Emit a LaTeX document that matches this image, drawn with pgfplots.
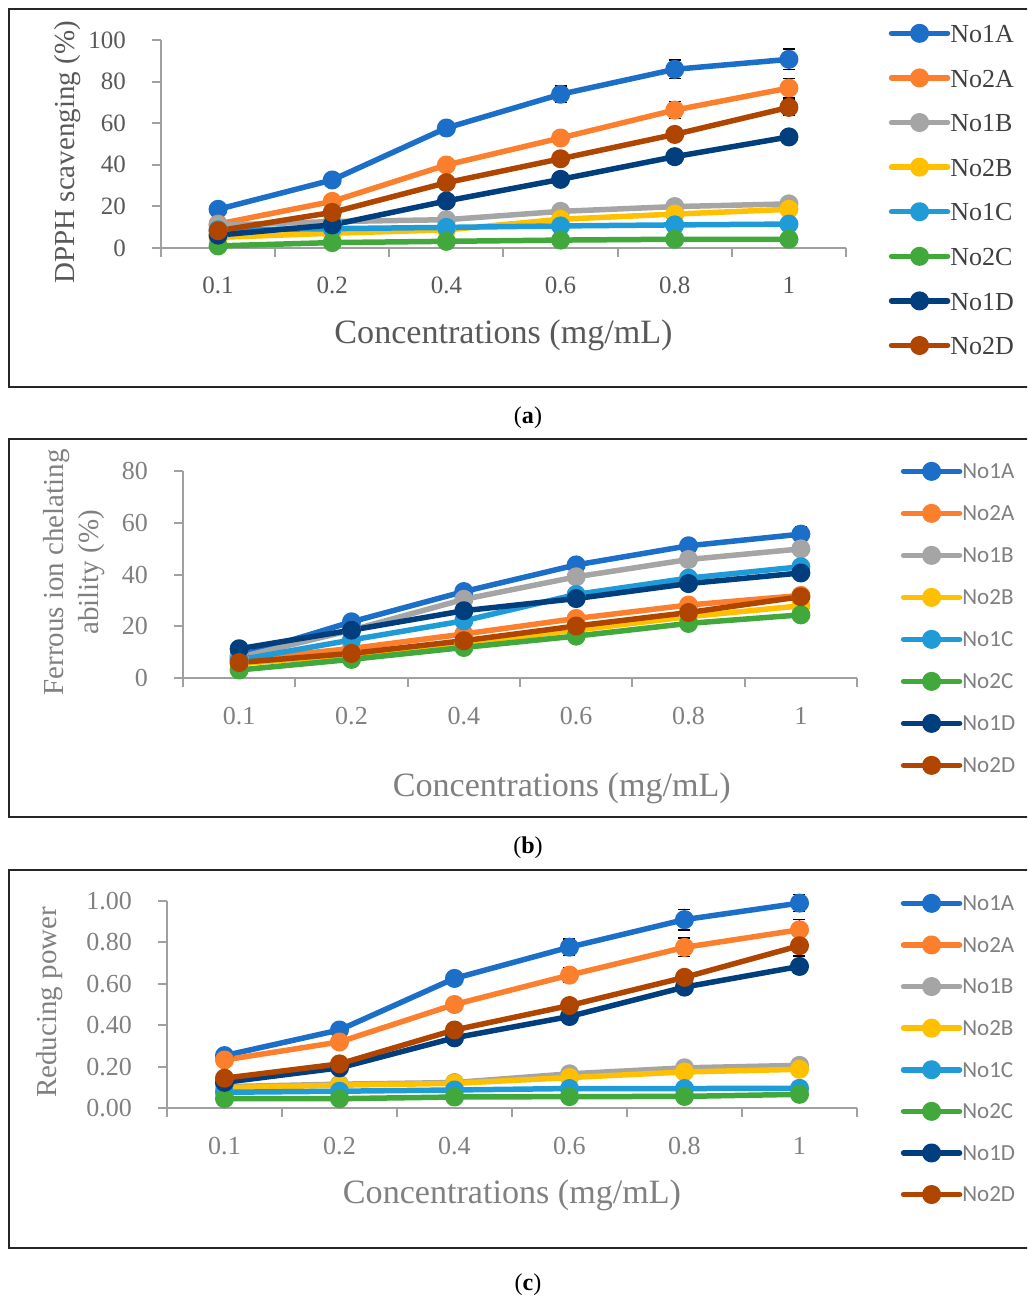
\documentclass[border=0pt]{standalone}
\usepackage{fontspec}
\setmainfont{Liberation Serif}
\newfontfamily\carlito{Carlito}
\usepackage{pgfplots}
\usepackage{pgfplotstable}
\pgfplotsset{compat=1.18}

\definecolor{cA1}{HTML}{1B6FC8}
\definecolor{cA2}{HTML}{FB7F2C}
\definecolor{cB1}{HTML}{A5A5A5}
\definecolor{cB2}{HTML}{FFC000}
\definecolor{cC1}{HTML}{1F9CD8}
\definecolor{cC2}{HTML}{41A83B}
\definecolor{cD1}{HTML}{003E7E}
\definecolor{cD2}{HTML}{B04500}
\definecolor{axgray}{HTML}{A0A0A0}
\definecolor{txtdark}{HTML}{595959}
\definecolor{txtlight}{HTML}{808080}

% DPPH scavenging (%)
\pgfplotstableread{
x A1   A2   B1   B2   C1   C2  D1   D2   eA1 eA2 eD1 eD2
0 18.6 11.5 11.0 5.1  8.7  1.0 6.2  8.3  1.5 1.0 1.0 1.0
1 32.7 22.4 12.7 7.1  9.3  2.6 11.1 17.1 1.5 1.5 1.0 1.0
2 57.7 39.9 13.6 8.7  9.9  3.2 22.6 31.4 2.5 1.5 1.0 1.5
3 73.9 52.9 17.6 13.8 10.6 3.8 33.0 42.9 4.0 2.5 1.0 1.5
4 85.9 66.3 19.9 16.3 11.1 4.2 43.9 54.6 4.5 4.0 1.5 2.5
5 90.7 76.9 21.2 18.6 11.5 4.2 53.4 67.6 5.0 4.5 2.0 4.0
}\dataA

% ferrous ion chelating ability (%)
\pgfplotstableread{
x A1   A2   B1   B2   C1   C2   D1   D2   eA1 eB1
0 8.5  7.0  8.0  5.5  7.0  3.1  11.3 6.0  1.0 1.0
1 21.7 11.4 18.5 9.0  14.7 7.2  18.5 9.5  1.0 1.0
2 33.4 17.0 30.4 13.5 22.1 11.8 26.0 14.4 1.0 1.5
3 43.7 23.0 39.1 18.5 32.3 16.2 30.7 20.1 1.5 2.5
4 51.1 28.2 45.8 23.7 38.6 21.1 36.5 25.3 2.5 2.5
5 55.6 31.9 49.9 27.9 43.0 24.4 40.6 31.4 3.0 2.5
}\dataB

% reducing power
\pgfplotstableread{
x A1    A2    B1    B2    C1    C2    D1    D2    eA1  eA2   eD1   eD2
0 0.253 0.232 0.103 0.098 0.076 0.045 0.124 0.144 0.01 0.01  0.01  0.01
1 0.377 0.319 0.115 0.110 0.081 0.045 0.194 0.213 0.01 0.01  0.01  0.01
2 0.626 0.500 0.123 0.119 0.087 0.053 0.339 0.377 0.02 0.015 0.01  0.01
3 0.777 0.642 0.165 0.147 0.094 0.055 0.442 0.495 0.04 0.035 0.01  0.02
4 0.910 0.776 0.194 0.174 0.094 0.056 0.584 0.631 0.05 0.045 0.02  0.035
5 0.990 0.861 0.206 0.187 0.095 0.066 0.684 0.784 0.04 0.05  0.035 0.05
}\dataC

\pgfplotsset{
  panel/.style={scale only axis, clip=false,
    xmin=-0.5, xmax=5.5,
    axis x line*=bottom, axis y line*=left,
    axis line style={axgray, line width=0.4mm},
    tick align=outside, major tick length=1.8mm,
    tick style={axgray, line width=0.4mm},
    xtick={0,...,5}, xticklabels={0.1,0.2,0.4,0.6,0.8,1},
    major x tick style={draw=none},
    extra x ticks={-0.5,0.5,1.5,2.5,3.5,4.5,5.5}, extra x tick labels={},
    extra x tick style={major x tick style={draw=axgray, line width=0.4mm}},
    xticklabel shift=2.8mm, yticklabel shift=4mm,
    /pgf/number format/assume math mode=true,
    every axis plot/.append style={line width=1.1mm, line cap=round, line join=round,
      mark=*, mark size=1.35mm},
    legend image code/.code={\draw[##1, mark repeat=2, mark phase=2]
      plot coordinates {(0mm,0mm) (5.6mm,0mm) (11.2mm,0mm)};},
  },
  ebar/.style={error bars/.cd, y dir=both, y explicit,
    error bar style={black, line width=0.25mm},
    error mark options={rotate=90, black, mark size=1.2mm, line width=0.25mm}},
}

\begin{document}
\begin{tikzpicture}
\useasboundingbox (0,0) rectangle (205.4mm,260mm);
\clip (0,0) rectangle (205.4mm,260mm);
\draw[line width=0.4mm, black!85] (1.8mm,258.2mm) rectangle (212mm,182.6mm);
\draw[line width=0.4mm, black!85] (1.8mm,172.2mm) rectangle (212mm,96.6mm);
\draw[line width=0.4mm, black!85] (1.8mm,86mm) rectangle (212mm,10.4mm);
\node[font=\fontsize{13.7}{16}\selectfont] at (105.6mm,176.4mm) {(\textbf{a})};
\node[font=\fontsize{13.7}{16}\selectfont] at (105.6mm,90.4mm) {(\textbf{b})};
\node[font=\fontsize{13.7}{16}\selectfont] at (105.6mm,3.0mm) {(\textbf{c})};

% (a)
\begin{axis}[panel, at={(32.2mm,210.4mm)}, anchor=south west,
  width=137mm, height=41.6mm, ymin=0, ymax=100, ytick={0,20,...,100},
  ticklabel style={font=\fontsize{14.2}{17}\selectfont, text=txtdark},
  xlabel={Concentrations (mg/mL)}, ylabel={DPPH scavenging (\%)},
  xlabel style={at={(axis description cs:0.5,-0.418)}, anchor=center,
    font=\fontsize{19.4}{23}\selectfont, text=txtdark},
  ylabel style={at={(axis description cs:-0.137,0.46)}, anchor=center,
    font=\fontsize{16.5}{20}\selectfont, text=txtdark},
  legend style={at={(axis description cs:1.062,1.141)}, anchor=north west,
    draw=none, fill=none, inner sep=0pt, row sep=0pt,
    font=\fontsize{14.8}{17}\selectfont, text=black!75,
    nodes={anchor=west, inner sep=0pt, text height=6.28mm, text depth=2.64mm}},
]
\addplot[cA1, ebar] table[x=x, y=A1, y error=eA1] {\dataA};
\addplot[cA2, ebar] table[x=x, y=A2, y error=eA2] {\dataA};
\addplot[cB1] table[x=x, y=B1] {\dataA};
\addplot[cB2] table[x=x, y=B2] {\dataA};
\addplot[cC1] table[x=x, y=C1] {\dataA};
\addplot[cC2] table[x=x, y=C2] {\dataA};
\addplot[cD1, ebar] table[x=x, y=D1, y error=eD1] {\dataA};
\addplot[cD2, ebar] table[x=x, y=D2, y error=eD2] {\dataA};
\legend{No1A,No2A,No1B,No2B,No1C,No2C,No1D,No2D}
\end{axis}

% (b)
\begin{axis}[panel, at={(36.6mm,124.4mm)}, anchor=south west,
  width=134.8mm, height=41.4mm, ymin=0, ymax=80, ytick={0,20,...,80},
  ticklabel style={font=\fontsize{14.8}{17}\selectfont, text=txtlight},
  xlabel={Concentrations (mg/mL)}, ylabel={Ferrous ion chelating\\ability (\%)},
  xlabel style={at={(axis description cs:0.562,-0.531)}, anchor=center,
    font=\fontsize{19.4}{23}\selectfont, text=txtlight},
  ylabel style={at={(axis description cs:-0.161,0.51)}, anchor=center, align=center,
    font=\fontsize{16.5}{19.9}\selectfont, text=txtlight},
  legend style={at={(axis description cs:1.0645,1.1014)}, anchor=north west,
    draw=none, fill=none, inner sep=0pt, row sep=0pt,
    font=\carlito\fontsize{13.1}{15}\selectfont, text=txtlight,
    nodes={anchor=west, inner sep=0pt, text height=5.68mm, text depth=2.72mm}},
]
\addplot[cA1, ebar] table[x=x, y=A1, y error=eA1] {\dataB};
\addplot[cA2] table[x=x, y=A2] {\dataB};
\addplot[cB1, ebar] table[x=x, y=B1, y error=eB1] {\dataB};
\addplot[cB2] table[x=x, y=B2] {\dataB};
\addplot[cC1] table[x=x, y=C1] {\dataB};
\addplot[cC2] table[x=x, y=C2] {\dataB};
\addplot[cD1] table[x=x, y=D1] {\dataB};
\addplot[cD2] table[x=x, y=D2] {\dataB};
\legend{No1A,No2A,No1B,No2B,No1C,No2C,No1D,No2D}
\end{axis}

% (c)
\begin{axis}[panel, at={(33.4mm,38.4mm)}, anchor=south west,
  width=138mm, height=41.4mm, ymin=0, ymax=1, ytick={0,0.2,...,1},
  yticklabel style={/pgf/number format/.cd, fixed, fixed zerofill, precision=2},
  ticklabel style={font=\fontsize{14.8}{17}\selectfont, text=txtlight},
  xlabel={Concentrations (mg/mL)}, ylabel={Reducing power},
  xlabel style={at={(axis description cs:0.5,-0.420)}, anchor=center,
    font=\fontsize{19.4}{23}\selectfont, text=txtlight},
  ylabel style={at={(axis description cs:-0.170,0.51)}, anchor=center,
    font=\fontsize{16.5}{20}\selectfont, text=txtlight},
  legend style={at={(axis description cs:1.063,1.0908)}, anchor=north west,
    draw=none, fill=none, inner sep=0pt, row sep=0pt,
    font=\carlito\fontsize{13.1}{15}\selectfont, text=txtlight,
    nodes={anchor=west, inner sep=0pt, text height=5.64mm, text depth=2.68mm}},
]
\addplot[cA1, ebar] table[x=x, y=A1, y error=eA1] {\dataC};
\addplot[cA2, ebar] table[x=x, y=A2, y error=eA2] {\dataC};
\addplot[cB1] table[x=x, y=B1] {\dataC};
\addplot[cB2] table[x=x, y=B2] {\dataC};
\addplot[cC1] table[x=x, y=C1] {\dataC};
\addplot[cC2] table[x=x, y=C2] {\dataC};
\addplot[cD1, ebar] table[x=x, y=D1, y error=eD1] {\dataC};
\addplot[cD2, ebar] table[x=x, y=D2, y error=eD2] {\dataC};
\legend{No1A,No2A,No1B,No2B,No1C,No2C,No1D,No2D}
\end{axis}
\end{tikzpicture}
\end{document}
